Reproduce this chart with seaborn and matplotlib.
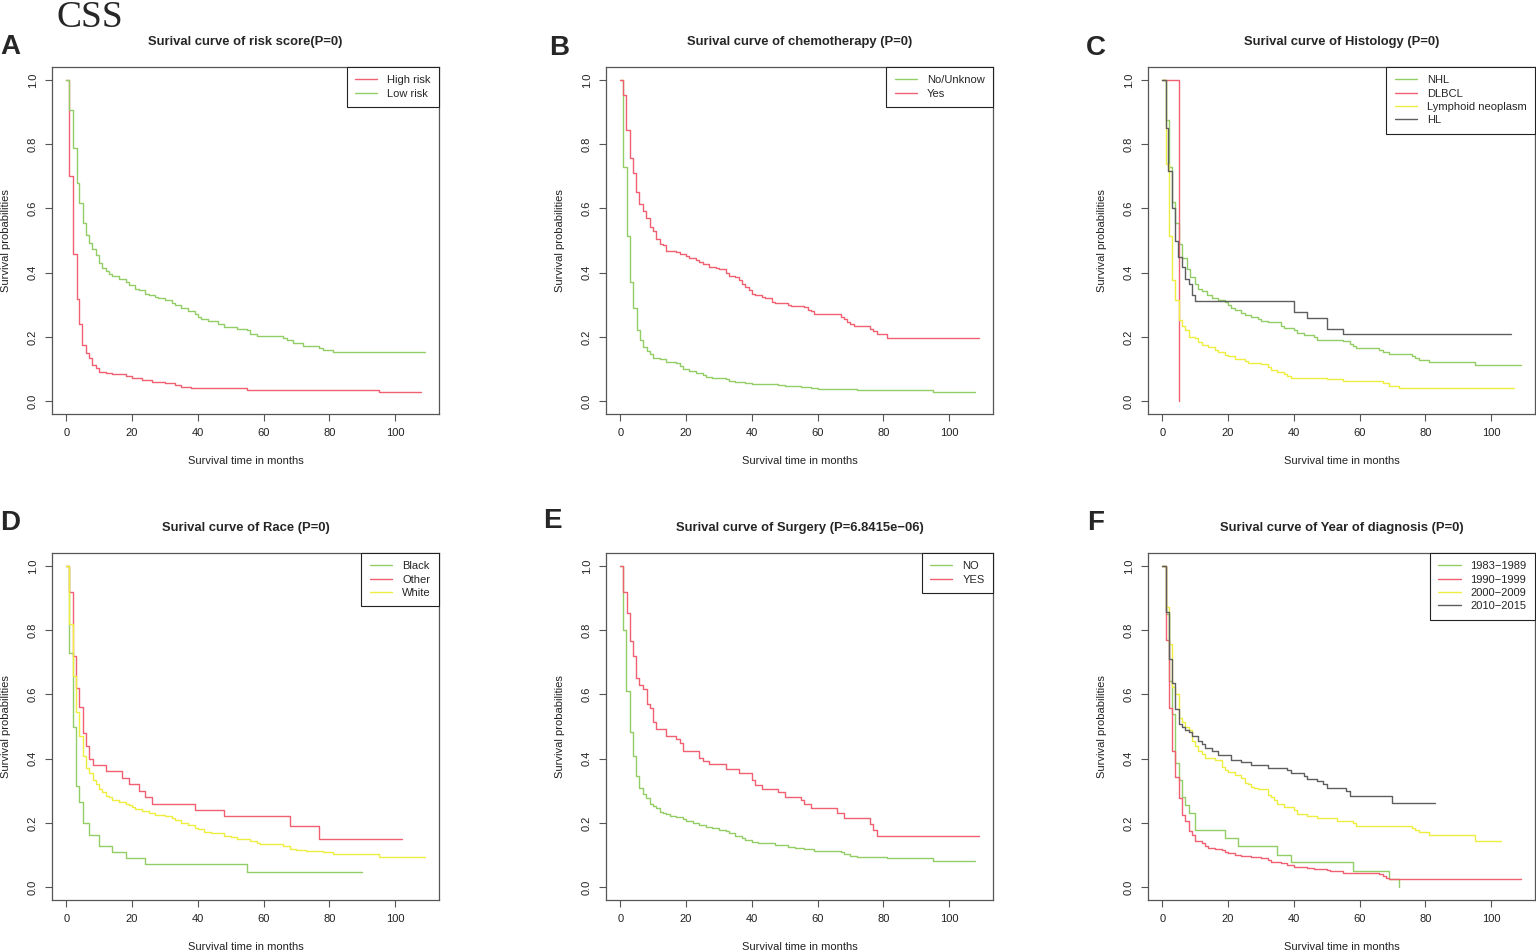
import numpy as np
import pandas as pd
import matplotlib
matplotlib.use("Agg")
import matplotlib.pyplot as plt
import seaborn as sns

# ---- A: risk score ----
a_high_t = [0, 0.8, 2, 3.1, 4, 4.9, 6, 6.9, 7.8, 8.9, 10, 12, 14, 18, 20, 23, 26, 30, 33, 35, 38, 55, 95, 108]
a_high_s = [1.0, 0.70, 0.457, 0.317, 0.239, 0.174, 0.15, 0.134, 0.111, 0.103, 0.092, 0.087, 0.083, 0.078,
            0.072, 0.066, 0.06, 0.055, 0.05, 0.045, 0.04, 0.035, 0.027, 0.027]
a_low_t = [0, 0.8, 1.9, 3.1, 4, 5, 6, 6.9, 7.9, 8.9, 9.9, 11, 12, 13, 14, 16, 18, 19, 21, 22, 24, 25, 27, 28,
           30, 32, 33, 35, 37, 39, 40, 41, 43, 46, 48, 52, 55, 56, 58, 66, 67, 69, 72, 77, 78, 81, 109]
a_low_s = [1.0, 0.906, 0.787, 0.68, 0.616, 0.555, 0.516, 0.493, 0.475, 0.454, 0.43, 0.415, 0.405, 0.395, 0.39,
           0.38, 0.37, 0.36, 0.35, 0.345, 0.335, 0.33, 0.325, 0.32, 0.315, 0.305, 0.3, 0.29, 0.28, 0.27, 0.262,
           0.255, 0.25, 0.24, 0.23, 0.225, 0.22, 0.21, 0.204, 0.198, 0.19, 0.18, 0.172, 0.165, 0.158, 0.152, 0.152]

# ---- B: chemotherapy ----
b_no_t = [0, 0.8, 2, 3, 4, 5, 6, 7, 8, 9, 10, 12, 14, 17, 18, 19, 21, 23, 25, 26, 28, 32, 33, 35, 38, 40, 48,
          50, 55, 58, 60, 72, 95, 108]
b_no_s = [1.0, 0.73, 0.515, 0.372, 0.29, 0.222, 0.19, 0.17, 0.155, 0.148, 0.135, 0.13, 0.122, 0.118, 0.11, 0.1,
          0.093, 0.088, 0.08, 0.075, 0.072, 0.07, 0.063, 0.06, 0.058, 0.053, 0.05, 0.046, 0.043, 0.04, 0.038,
          0.036, 0.03, 0.03]
b_yes_t = [0, 0.8, 1.8, 2.8, 3.8, 4.8, 5.8, 6.9, 7.9, 8.9, 9.8, 10.8, 12, 13, 14, 17, 18, 20, 21, 23, 24, 25,
           27, 29, 30, 32, 33, 35, 36, 37, 38, 39, 40, 41, 43, 44, 46, 47, 51, 52, 56, 57, 58, 59, 66, 67, 68,
           69, 70, 71, 76, 77, 78, 81, 109]
b_yes_s = [1.0, 0.952, 0.843, 0.758, 0.709, 0.65, 0.615, 0.593, 0.571, 0.543, 0.53, 0.505, 0.49, 0.485, 0.468,
           0.465, 0.457, 0.452, 0.446, 0.44, 0.432, 0.428, 0.418, 0.415, 0.41, 0.4, 0.391, 0.385, 0.378, 0.364,
           0.355, 0.347, 0.335, 0.33, 0.325, 0.32, 0.31, 0.304, 0.3, 0.295, 0.292, 0.285, 0.28, 0.272, 0.27,
           0.262, 0.255, 0.245, 0.24, 0.234, 0.226, 0.218, 0.208, 0.198, 0.198]

# ---- C: histology ----
c_nhl_t = [0, 1, 2, 3, 4, 5, 6, 7.5, 8.5, 10, 11, 12, 13.5, 15, 17, 19, 20, 21, 22, 24, 25, 27, 29, 30, 32, 36,
           37, 40, 41, 43, 46, 47, 55, 57, 58, 59, 66, 67, 69, 76, 77, 78, 81, 95, 109]
c_nhl_s = [1.0, 0.875, 0.73, 0.62, 0.555, 0.488, 0.446, 0.41, 0.385, 0.366, 0.35, 0.342, 0.33, 0.32, 0.316,
           0.31, 0.3, 0.291, 0.283, 0.275, 0.268, 0.262, 0.257, 0.25, 0.245, 0.235, 0.228, 0.22, 0.213, 0.205,
           0.2, 0.19, 0.186, 0.178, 0.172, 0.165, 0.16, 0.154, 0.148, 0.142, 0.135, 0.128, 0.123, 0.111, 0.111]
c_dlbcl_t = [0, 5]
c_dlbcl_s = [1.0, 0.0]
c_lym_t = [0, 1, 2, 3, 4, 5, 6, 7, 8, 10, 11, 12, 14, 16, 17, 19, 20, 22, 25, 26, 30, 32, 33, 35, 37, 38, 39,
           50, 55, 67, 69, 72, 107]
c_lym_s = [1.0, 0.737, 0.515, 0.378, 0.314, 0.254, 0.235, 0.22, 0.2, 0.195, 0.185, 0.176, 0.168, 0.16, 0.153,
           0.145, 0.139, 0.13, 0.125, 0.118, 0.115, 0.105, 0.098, 0.09, 0.085, 0.078, 0.073, 0.07, 0.064, 0.055,
           0.048, 0.042, 0.042]
c_hl_t = [0, 1, 1.8, 2.8, 3.8, 4.8, 5.9, 7, 8, 9, 10, 40, 44, 50, 55, 106]
c_hl_s = [1.0, 0.85, 0.716, 0.6, 0.5, 0.45, 0.418, 0.381, 0.365, 0.33, 0.312, 0.277, 0.26, 0.225, 0.208, 0.208]

# ---- D: race ----
d_black_t = [0, 0.8, 2, 3, 4, 5, 7, 10, 14, 18, 24, 55, 90]
d_black_s = [1.0, 0.73, 0.5, 0.315, 0.266, 0.2, 0.163, 0.127, 0.109, 0.09, 0.072, 0.048, 0.048]
d_other_t = [0, 0.8, 2, 3, 4, 5, 6, 7, 8, 12, 17, 19, 22, 24, 26, 39, 48, 68, 77, 102]
d_other_s = [1.0, 0.92, 0.72, 0.62, 0.56, 0.48, 0.44, 0.40, 0.38, 0.36, 0.34, 0.32, 0.30, 0.28, 0.26, 0.24,
             0.22, 0.19, 0.15, 0.15]
d_white_t = [0, 0.8, 2, 3, 4, 5, 6, 7, 8, 9, 10, 11, 12, 13, 14, 16, 18, 19, 20, 21, 23, 25, 27, 30, 32, 33,
             35, 37, 39, 40, 42, 44, 48, 50, 52, 56, 58, 59, 66, 68, 70, 73, 78, 81, 95, 109]
d_white_s = [1.0, 0.82, 0.658, 0.544, 0.471, 0.409, 0.371, 0.354, 0.334, 0.32, 0.305, 0.295, 0.285, 0.28,
             0.272, 0.265, 0.26, 0.255, 0.248, 0.242, 0.238, 0.23, 0.225, 0.22, 0.215, 0.208, 0.2, 0.193,
             0.185, 0.18, 0.172, 0.167, 0.16, 0.155, 0.15, 0.145, 0.138, 0.133, 0.128, 0.12, 0.115, 0.112,
             0.108, 0.103, 0.094, 0.094]

# ---- E: surgery ----
e_no_t = [0, 0.8, 1.8, 3, 3.9, 4.8, 5.8, 6.9, 7.9, 8.9, 10, 11, 12, 13, 14, 15, 17, 19, 20, 22, 24, 26, 28,
          30, 32, 33, 35, 37, 38, 40, 42, 47, 51, 53, 56, 59, 67, 68, 70, 72, 81, 95, 108]
e_no_s = [1.0, 0.8, 0.609, 0.484, 0.409, 0.345, 0.31, 0.291, 0.276, 0.26, 0.253, 0.245, 0.235, 0.23, 0.227,
          0.222, 0.218, 0.212, 0.205, 0.2, 0.192, 0.188, 0.183, 0.178, 0.175, 0.168, 0.16, 0.153, 0.148,
          0.142, 0.136, 0.13, 0.125, 0.122, 0.118, 0.111, 0.108, 0.103, 0.098, 0.095, 0.09, 0.082, 0.082]
e_yes_t = [0, 0.8, 2, 2.8, 4, 4.8, 5.8, 7, 8, 8.9, 9.9, 10.8, 14, 17, 18, 19, 24, 25, 27, 32, 36, 40, 41, 43,
           48, 50, 55, 56, 58, 66, 68, 76, 77, 78, 109]
e_yes_s = [1.0, 0.92, 0.853, 0.765, 0.72, 0.652, 0.629, 0.617, 0.571, 0.558, 0.515, 0.492, 0.469, 0.46, 0.448,
           0.425, 0.401, 0.393, 0.382, 0.368, 0.354, 0.333, 0.319, 0.307, 0.295, 0.282, 0.271, 0.259, 0.246,
           0.231, 0.215, 0.196, 0.178, 0.16, 0.16]

# ---- F: year of diagnosis ----
f_83_t = [0, 1, 2, 3, 4, 5, 6, 7, 8, 10, 19, 23, 35, 39, 58, 69, 72]
f_83_s = [1.0, 0.85, 0.643, 0.539, 0.385, 0.333, 0.281, 0.255, 0.23, 0.179, 0.153, 0.127, 0.101, 0.077, 0.05,
          0.025, 0.0]
f_90_t = [0, 1, 2, 3, 4, 5, 6, 7, 8, 9, 10, 12, 13, 14, 16, 18, 19, 20, 22, 24, 27, 30, 32, 33, 36, 38, 40,
          44, 46, 50, 51, 55, 66, 67, 68, 69, 109]
f_90_s = [1.0, 0.77, 0.558, 0.425, 0.344, 0.276, 0.224, 0.207, 0.175, 0.162, 0.144, 0.136, 0.128, 0.123, 0.12,
          0.115, 0.11, 0.105, 0.1, 0.096, 0.093, 0.09, 0.085, 0.079, 0.075, 0.07, 0.064, 0.06, 0.057, 0.053,
          0.05, 0.043, 0.04, 0.035, 0.03, 0.025, 0.025]
f_00_t = [0, 1, 2, 3, 4, 5, 6, 7, 8, 9, 10, 11, 12, 13, 16, 18, 19, 20, 22, 24, 25, 26, 27, 28, 29, 32, 33,
          34, 35, 37, 40, 41, 43, 44, 47, 53, 58, 59, 76, 77, 78, 81, 95, 103]
f_00_s = [1.0, 0.873, 0.757, 0.622, 0.6, 0.526, 0.515, 0.5, 0.49, 0.454, 0.44, 0.425, 0.415, 0.401, 0.395,
          0.373, 0.365, 0.358, 0.348, 0.34, 0.325, 0.32, 0.313, 0.31, 0.304, 0.287, 0.28, 0.27, 0.259, 0.248,
          0.24, 0.229, 0.228, 0.22, 0.214, 0.206, 0.2, 0.191, 0.185, 0.178, 0.172, 0.162, 0.143, 0.143]
f_10_t = [0, 1, 2, 3, 4, 5, 6, 7, 8, 9, 11, 12, 13, 15, 17, 21, 24, 27, 32, 38, 39, 43, 44, 47, 49, 50, 56,
          57, 70, 83]
f_10_s = [1.0, 0.856, 0.71, 0.636, 0.555, 0.508, 0.497, 0.49, 0.483, 0.471, 0.455, 0.445, 0.432, 0.425, 0.412,
          0.397, 0.39, 0.38, 0.372, 0.365, 0.354, 0.345, 0.336, 0.33, 0.32, 0.31, 0.3, 0.285, 0.261, 0.261]

x_ticks = [0, 20, 40, 60, 80, 100]
y_ticks = [0.0, 0.2, 0.4, 0.6, 0.8, 1.0]

RED = "#F06070"
GREEN = "#92CD66"
YELLOW = "#EEEE40"
GREY = "#5E5E5E"

sns.set_style("ticks")
plt.rcParams['font.family'] = ['Liberation Sans', 'DejaVu Sans']

W, H = 1536, 951
fig = plt.figure(figsize=(W / 100, H / 100), dpi=100)


def km_panel(px_left, px_top, letter, letter_xy, title, curves):
    # axes placed in pixel coordinates of the reference
    ax = fig.add_axes([px_left / W, 1 - (px_top + 347) / H, 387 / W, 347 / H])
    frames = []
    for name, t, s, col in curves:
        assert len(t) == len(s), name
        frames.append(pd.DataFrame({"time": t, "surv": s, "group": name}))
    df = pd.concat(frames, ignore_index=True)
    order = [c[0] for c in curves]
    pal = {c[0]: c[3] for c in curves}
    sns.lineplot(data=df, x="time", y="surv", hue="group", hue_order=order, palette=pal,
                 estimator=None, drawstyle="steps-post", linewidth=1.0, ax=ax)
    ax.set_xlim(-4.36, 113.36)
    ax.set_ylim(-0.04, 1.04)
    ax.set_xticks(x_ticks)
    ax.set_xticklabels([str(v) for v in x_ticks])
    ax.set_yticks(y_ticks)
    ax.set_yticklabels([f"{v:.1f}" for v in y_ticks], rotation=90, va="center")
    ax.tick_params(direction="out", length=5, width=0.8, color="#555555", labelsize=8,
                   labelcolor="#222222", pad=5)
    for sp in ax.spines.values():
        sp.set_color("#555555")
        sp.set_linewidth(0.9)
    ax.set_xlabel("Survival time in months", fontsize=8, color="#222222")
    ax.set_ylabel("Survival probabilities", fontsize=8, color="#222222")
    ax.xaxis.set_label_coords(0.5, -0.12)
    ax.yaxis.set_label_coords(-0.106, 0.5)
    ax.set_title(title, fontsize=9.4, fontweight="bold", pad=16)
    sns.move_legend(ax, "upper right", bbox_to_anchor=(1, 1), borderaxespad=0, title=None,
                    frameon=True, fancybox=False, framealpha=1, edgecolor="#222222", fontsize=8,
                    handlelength=2.0, handletextpad=0.9, labelspacing=0.3, borderpad=0.75)
    ax.get_legend().get_frame().set_linewidth(0.8)
    fig.text(letter_xy[0] / W, 1 - letter_xy[1] / H, letter, fontsize=20, fontweight="bold",
             ha="left", va="baseline")
    return ax


km_panel(52, 67, "A", (0, 54), "Surival curve of risk score(P=0)",
         [("High risk", a_high_t, a_high_s, RED), ("Low risk", a_low_t, a_low_s, GREEN)])
km_panel(606, 67, "B", (549, 55), "Surival curve of chemotherapy (P=0)",
         [("No/Unknow", b_no_t, b_no_s, GREEN), ("Yes", b_yes_t, b_yes_s, RED)])
km_panel(1148, 67, "C", (1086, 55), "Surival curve of Histology (P=0)",
         [("NHL", c_nhl_t, c_nhl_s, GREEN), ("DLBCL", c_dlbcl_t, c_dlbcl_s, RED),
          ("Lymphoid neoplasm", c_lym_t, c_lym_s, YELLOW), ("HL", c_hl_t, c_hl_s, GREY)])
km_panel(52, 553, "D", (0, 530), "Surival curve of Race (P=0)",
         [("Black", d_black_t, d_black_s, GREEN), ("Other", d_other_t, d_other_s, RED),
          ("White", d_white_t, d_white_s, YELLOW)])
km_panel(606, 553, "E", (543, 528), "Surival curve of Surgery (P=6.8415e\u221206)",
         [("NO", e_no_t, e_no_s, GREEN), ("YES", e_yes_t, e_yes_s, RED)])
km_panel(1148, 553, "F", (1087, 530), "Surival curve of Year of diagnosis (P=0)",
         [("1983\u22121989", f_83_t, f_83_s, GREEN), ("1990\u22121999", f_90_t, f_90_s, RED),
          ("2000\u22122009", f_00_t, f_00_s, YELLOW), ("2010\u22122015", f_10_t, f_10_s, GREY)])

fig.text(57 / W, 1 - 27 / H, "CSS", fontsize=27, family=["Liberation Serif", "DejaVu Serif"],
         ha="left", va="baseline")

fig.savefig("out.png", dpi=100)
